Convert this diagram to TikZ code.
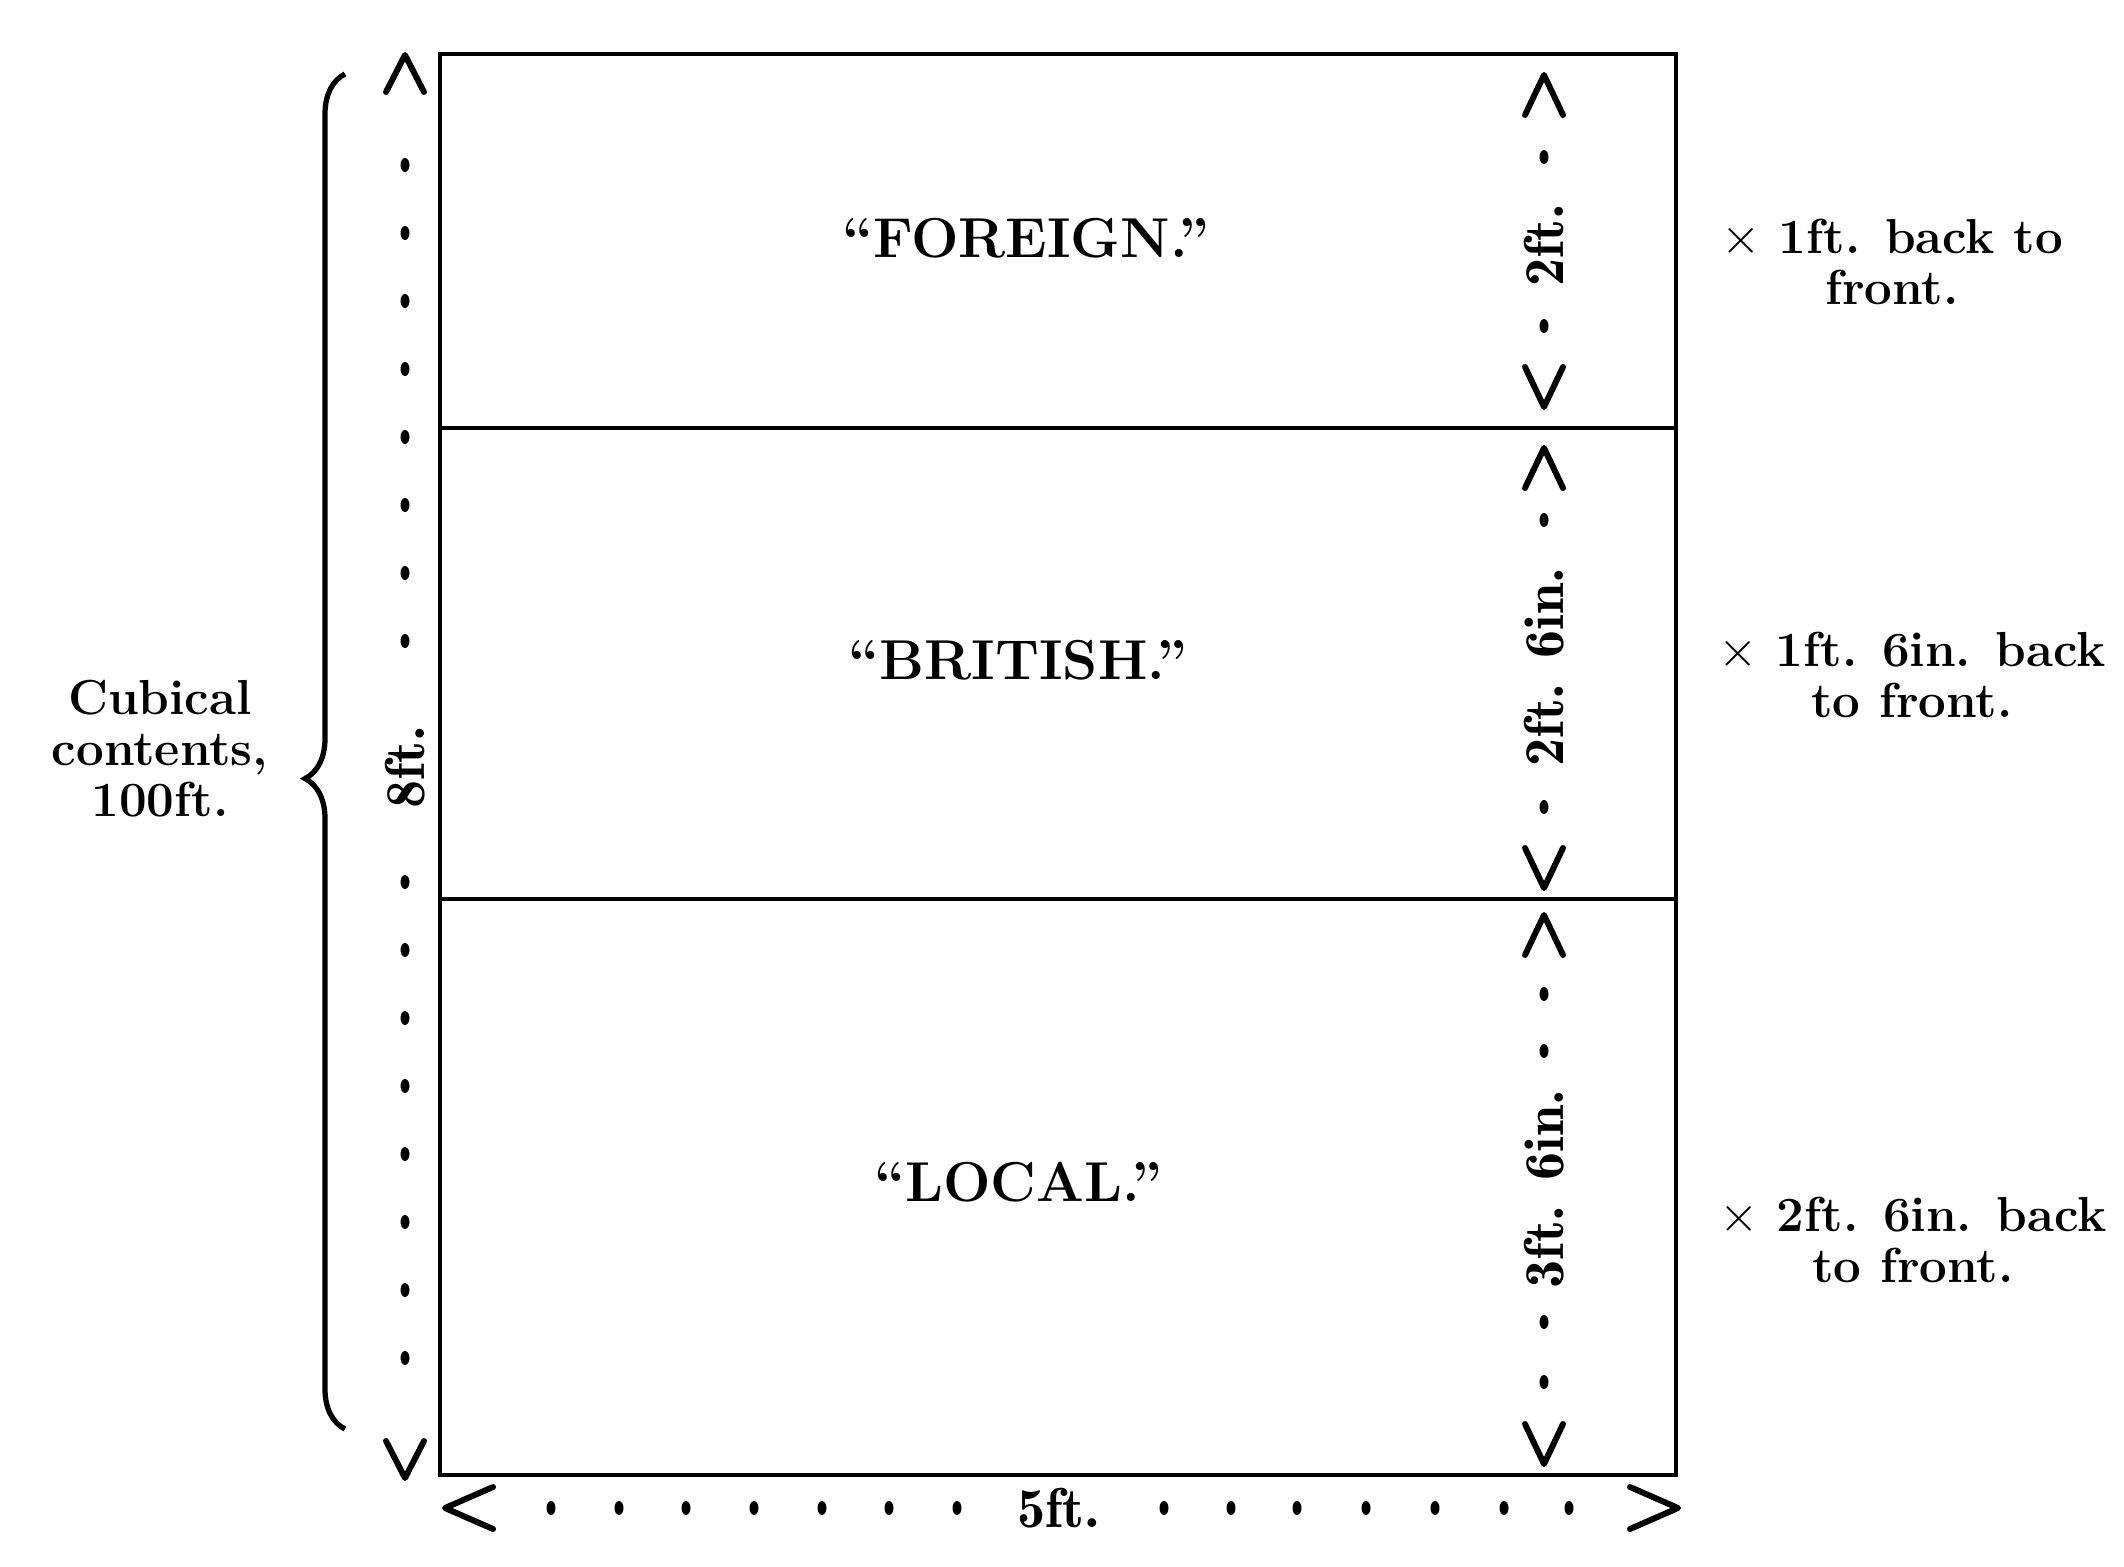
\documentclass[tikz,border=0pt]{standalone}
\usetikzlibrary{decorations.pathreplacing}
\begin{document}
\begin{tikzpicture}[
    wall/.style={line width=1.1pt},
    chev/.style={line width=1.7pt, line cap=round, line join=round},
    shelf/.style={font=\fontsize{16}{16}\selectfont\bfseries, inner sep=1pt},
    note/.style={font=\fontsize{14}{14.3}\selectfont\bfseries, align=center, inner sep=1pt},
    dimlbl/.style={font=\fontsize{16}{16}\fontseries{b}\selectfont, inner sep=1pt},
    bracket/.style={line width=1.5pt, decorate,
                    decoration={brace, amplitude=0.4cm, aspect=0.48}}]
  \useasboundingbox (0,0) rectangle (21.24,15.66);
  \coordinate (tl) at (4.40,15.12);
  \coordinate (br) at (16.76,0.91);
  \coordinate (d1l) at (4.40,11.38);
  \coordinate (d1r) at (16.76,11.38);
  \coordinate (d2l) at (4.40,6.67);
  \coordinate (d2r) at (16.76,6.67);
  \draw[wall] (tl) rectangle (br);
  \draw[wall] (d1l) -- (d1r);
  \draw[wall] (d2l) -- (d2r);
  \node[shelf] (foreign) at (10.26,13.28) {``FOREIGN.''};
  \node[shelf] (british) at (10.18,9.06)  {``BRITISH.''};
  \node[shelf] (local)   at (10.18,3.84)  {``LOCAL.''};
  % height, left side
  \draw[chev] (4.05,15.11) ++(-0.19,-0.37) -- ++(0.19,0.37) -- ++(0.19,-0.37);
  \draw[chev] (4.05,0.88) ++(-0.19,0.37) -- ++(0.19,-0.37) -- ++(0.19,0.37);
  \foreach \k in {0,...,7} {
    \fill (4.05,{14.01-0.68*\k}) ellipse (0.045 and 0.07);
    \fill (4.05,{6.84-0.68*\k}) ellipse (0.045 and 0.07);
  }
  \node[dimlbl, rotate=90] (h8) at (4.05,7.99) {8ft.};
  \coordinate (bb) at (3.45,1.37);
  \coordinate (bt) at (3.45,14.92);
  \draw[bracket] (bb) -- (bt);
  \node[note, font=\fontsize{14}{14.5}\selectfont\bfseries] (cubic) at (1.60,8.17)
        {Cubical\\contents,\\100ft.};
  % heights, right side
  \foreach \top/\bot in {14.91/11.59, 11.18/6.78, 6.51/1.02} {
    \draw[chev] (15.44,\top) ++(-0.19,-0.40) -- ++(0.19,0.40) -- ++(0.19,-0.40);
    \draw[chev] (15.44,\bot) ++(-0.19,0.40) -- ++(0.19,-0.40) -- ++(0.19,0.40);
  }
  \foreach \y in {14.09,12.40,10.46,7.59,5.72,5.15,2.44,1.84}
    \fill (15.44,\y) ellipse (0.045 and 0.07);
  \node[dimlbl, rotate=90] (h2)  at (15.44,13.21) {2ft.};
  \node[dimlbl, rotate=90] (h26) at (15.44,8.99)  {2ft. 6in.};
  \node[dimlbl, rotate=90] (h36) at (15.44,3.77)  {3ft. 6in.};
  % width, bottom
  \draw[chev] (4.45,0.58) ++(0.48,0.21) -- ++(-0.48,-0.21) -- ++(0.48,-0.21);
  \draw[chev] (16.78,0.58) ++(-0.48,0.21) -- ++(0.48,-0.21) -- ++(-0.48,-0.21);
  \foreach \x in {5.51,6.19,6.86,7.54,8.22,8.89,9.57,11.64,12.31,12.97,13.66,14.35,15.04,15.69}
    \fill (\x,0.58) ellipse (0.045 and 0.07);
  \node[dimlbl] (w5) at (10.59,0.58) {5ft.};
  % depths
  \node[note] (dforeign) at (18.92,13.04) {$\times$ 1ft. back to\\front.};
  \node[note] (dbritish) at (19.12,8.91)  {$\times$ 1ft. 6in. back\\to front.};
  \node[note] (dlocal)   at (19.13,3.26)  {$\times$ 2ft. 6in. back\\to front.};
\end{tikzpicture}
\end{document}
